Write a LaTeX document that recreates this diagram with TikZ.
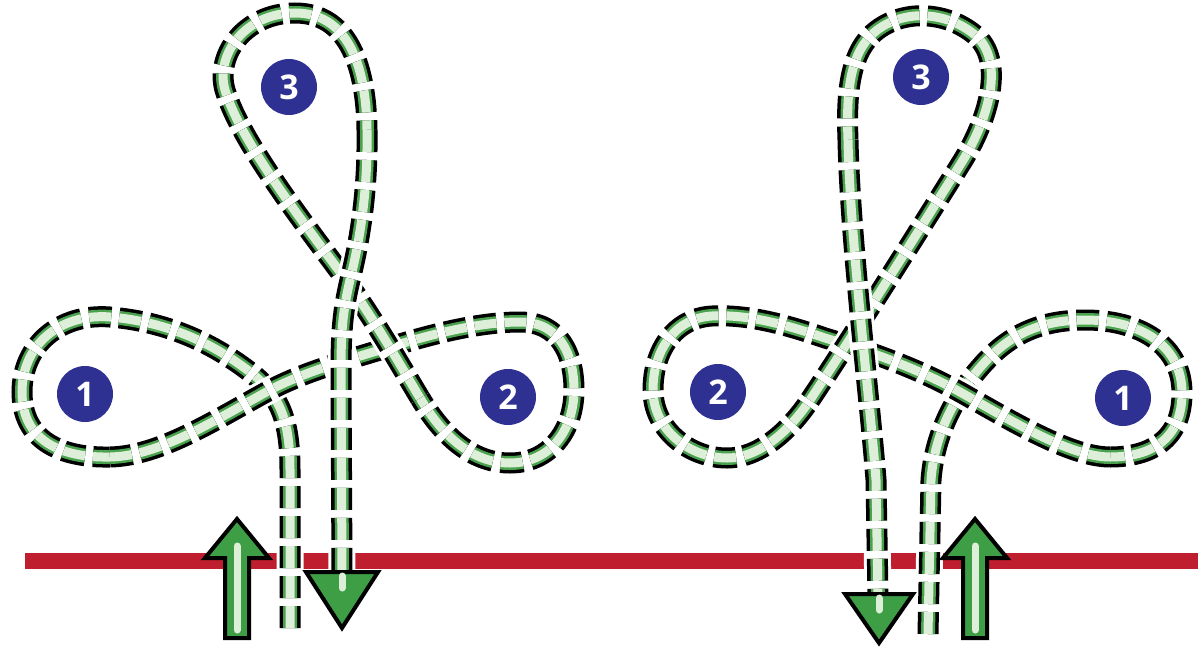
\documentclass[tikz,border=0pt]{standalone}
\usepackage{fontspec}
\setmainfont{Open Sans}
\definecolor{ropegreen}{HTML}{4AA24E}
\definecolor{ropelight}{HTML}{DDEFD8}
\definecolor{arrowgreen}{HTML}{3E9E46}
\definecolor{linered}{HTML}{BE1E2D}
\definecolor{numblue}{HTML}{2E3192}
\tikzset{
  rope/.style={line cap=butt,
    preaction={draw=white,line width=27pt,solid},
    preaction={draw=black,line width=21pt,dash pattern=on 22pt off 8pt},
    preaction={draw=ropegreen,line width=14pt,dash pattern=on 22pt off 8pt},
    draw=ropelight, line width=9pt, dash pattern=on 22pt off 8pt},
  num/.style={circle, fill=numblue, minimum size=56pt, inner sep=0pt, text=white,
    font=\bfseries\fontsize{34}{34}\selectfont},
  arrowbody/.style={draw=black, line width=4pt, fill=arrowgreen, line join=miter},
  shaftline/.style={draw=ropelight, line width=7pt, line cap=round},
  redline/.style={draw=linered, line width=16pt}
}
\begin{document}
\begin{tikzpicture}[x=1pt,y=-1pt]
\useasboundingbox (0,0) rectangle (1198,650);
% red line
\coordinate (rl) at (25,561);
\coordinate (rr) at (1198,561);
\draw[redline] (rl) -- (rr);

% ---------- left figure ----------
\draw[rope] (290,628) -- (290,470) .. controls (290,420) and (280,395) .. (250,372)
  .. controls (215,345) and (170,322) .. (110,317)
  .. controls (60,313) and (22,345) .. (22,392)
  .. controls (22,440) and (60,458) .. (110,457);
\draw[rope] (110,457) .. controls (160,456) and (215,420) .. (270,390)
  .. controls (300,374) and (340,362) .. (380,350)
  .. controls (413,340) and (470,322) .. (520,322)
  .. controls (560,322) and (574,355) .. (574,390)
  .. controls (574,430) and (550,463) .. (510,463)
  .. controls (475,463) and (445,440) .. (420,398);
\draw[rope] (420,398) .. controls (400,365) and (375,320) .. (340,272)
  .. controls (300,218) and (240,140) .. (225,90)
  .. controls (215,55) and (245,13) .. (295,13)
  .. controls (345,13) and (366,60) .. (367,130);
\draw[rope] (367,130) .. controls (368,190) and (360,240) .. (350,280)
  .. controls (343,310) and (341,330) .. (341,370) -- (342,575);
\draw[arrowbody] (306,572) -- (378,572) -- (342,628) -- cycle;
\draw[shaftline] (342,576) -- (342,588);
% up arrow left
\draw[arrowbody] (225,638) -- (225,558) -- (205,558) -- (237,519) -- (269,558) -- (249,558) -- (249,638) -- cycle;
\draw[shaftline] (237,630) -- (237,546);

\node[num] (n1L) at (85,394) {1};
\node[num] (n2L) at (508,397) {2};
\node[num] (n3L) at (289,87) {3};

% ---------- right figure ----------
\draw[rope] (928,634) -- (931,480) .. controls (934,440) and (950,400) .. (985,362)
  .. controls (1010,335) and (1040,320) .. (1085,320)
  .. controls (1140,320) and (1182,345) .. (1182,393)
  .. controls (1182,440) and (1150,457) .. (1110,457);
\draw[rope] (1110,457) .. controls (1070,457) and (1010,420) .. (960,392)
  .. controls (915,367) and (865,350) .. (825,338)
  .. controls (790,326) and (750,314) .. (712,316)
  .. controls (675,318) and (653,350) .. (653,390)
  .. controls (653,430) and (690,458) .. (727,458)
  .. controls (760,458) and (790,430) .. (810,400);
\draw[rope] (810,400) .. controls (850,340) and (910,245) .. (960,165)
  .. controls (990,118) and (1005,60) .. (975,35)
  .. controls (950,14) and (910,8) .. (880,28)
  .. controls (850,48) and (846,90) .. (848,140);
\draw[rope] (848,140) .. controls (850,240) and (870,400) .. (876,480) -- (878,596);
\draw[arrowbody] (845,594) -- (913,594) -- (879,643) -- cycle;
\draw[shaftline] (879,598) -- (879,610);
% up arrow right
\draw[arrowbody] (963,638) -- (963,558) -- (943,558) -- (975,519) -- (1007,558) -- (987,558) -- (987,638) -- cycle;
\draw[shaftline] (975,630) -- (975,546);

\node[num] (n2R) at (718,392) {2};
\node[num] (n1R) at (1123,398) {1};
\node[num] (n3R) at (921,77) {3};
\end{tikzpicture}
\end{document}
